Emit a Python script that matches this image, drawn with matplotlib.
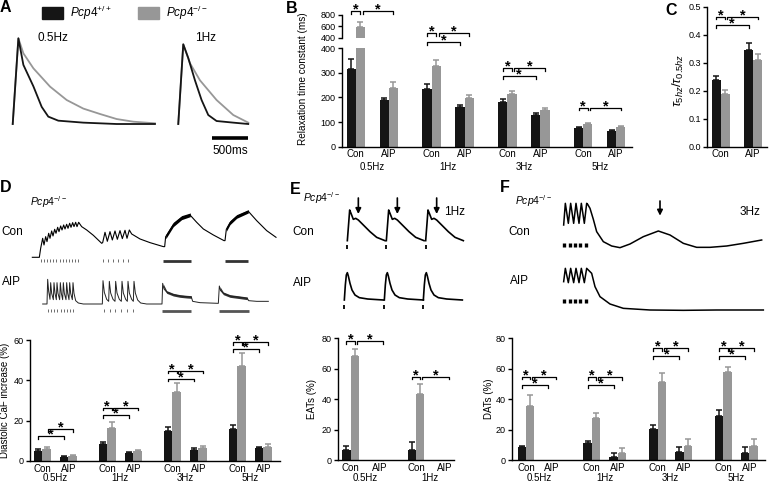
import matplotlib
matplotlib.use("Agg")
import matplotlib.pyplot as plt
from matplotlib.patches import Patch
import numpy as np

W, H = 769, 491
BLACK = "#151515"
GREY = "#979797"

plt.rcParams["font.family"] = ["Liberation Sans", "DejaVu Sans"]
plt.rcParams["mathtext.fontset"] = "custom"
plt.rcParams["mathtext.rm"] = "Liberation Sans"
plt.rcParams["mathtext.it"] = "Liberation Sans:italic"
plt.rcParams["mathtext.bf"] = "Liberation Sans:bold"
plt.rcParams["axes.linewidth"] = 1.0

WT = r"$\mathit{Pcp4}^{+/+}$"
KO = r"$\mathit{Pcp4}^{-/-}$"

# ---- A: normalised Ca transients (ms, F/Fmax)
a05_t_wt = [0, 77, 145, 281, 394, 484, 620, 960, 1414, 1935]
a05_f_wt = [0, 1.0, 0.69, 0.44, 0.20, 0.086, 0.039, 0.016, 0.0, 0.0]
a05_t_ko = [0, 77, 145, 281, 508, 734, 960, 1187, 1414, 1641, 1935]
a05_f_ko = [0, 1.0, 0.825, 0.65, 0.436, 0.28, 0.18, 0.117, 0.058, 0.027, 0.008]
a1_t_wt = [0, 68, 136, 227, 317, 408, 521, 748, 952]
a1_f_wt = [0, 0.93, 0.77, 0.51, 0.28, 0.105, 0.035, 0.016, 0.0]
a1_t_ko = [0, 68, 159, 295, 521, 748, 952]
a1_f_ko = [0, 0.93, 0.71, 0.51, 0.28, 0.105, 0.016]

# ---- B: relaxation time constant (ms)
freqs = ["0.5Hz", "1Hz", "3Hz", "5Hz"]
b_con_wt, b_con_wt_e = [314, 233, 183, 76], [41, 22, 10, 5]
b_con_ko, b_con_ko_e = [590, 327, 213, 92], [85, 27, 14, 6]
b_aip_wt, b_aip_wt_e = [188, 161, 128, 65], [8, 7, 8, 4]
b_aip_ko, b_aip_ko_e = [240, 196, 150, 79], [22, 15, 7, 4]
b_sig = [(0, "cw", 870), (0, "ka", 870), (1, "cw", 462), (1, "ka", 462), (1, "wa", 426),
         (2, "cw", 318), (2, "ka", 318), (2, "wa", 286), (3, "cw", 159), (3, "ka", 159)]

# ---- C: tau 5Hz / tau 0.5Hz
c_con_wt, c_con_wt_e = [0.238], [0.014]
c_con_ko, c_con_ko_e = [0.187], [0.015]
c_aip_wt, c_aip_wt_e = [0.345], [0.026]
c_aip_ko, c_aip_ko_e = [0.310], [0.021]
c_sig = [(0, "cw", 0.464), (0, "ka", 0.464), (0, "wa", 0.435)]

# ---- D: diastolic CaF increase (%)
d_con_wt, d_con_wt_e = [5.1, 8.3, 15.0, 15.7], [0.8, 1.1, 2.0, 2.2]
d_con_ko, d_con_ko_e = [5.9, 16.2, 34.0, 47.3], [0.9, 3.0, 4.5, 6.1]
d_aip_wt, d_aip_wt_e = [2.1, 4.1, 5.6, 6.3], [0.4, 0.5, 0.8, 0.6]
d_aip_ko, d_aip_ko_e = [2.6, 5.1, 6.3, 7.1], [0.5, 0.5, 1.1, 1.2]
d_sig = [(0, "wa", 12.4), (0, "ka", 15.9), (1, "cw", 26.4), (1, "ka", 26.4), (1, "wa", 22.8),
         (2, "cw", 44.8), (2, "ka", 44.8), (2, "wa", 40.8), (3, "cw", 59), (3, "ka", 59), (3, "wa", 55.5)]

# ---- E: EATs (%)
e_freqs = ["0.5Hz", "1Hz"]
e_con_wt, e_con_wt_e = [6.6, 6.6], [2.6, 5.0]
e_con_ko, e_con_ko_e = [68.4, 43.4], [4.4, 6.4]
e_aip_wt, e_aip_wt_e = [0, 0], [0, 0]
e_aip_ko, e_aip_ko_e = [0, 0], [0, 0]
e_sig = [(0, "cw", 78.3), (0, "ka", 78.3), (1, "cw", 54.8), (1, "ka", 54.8)]

# ---- F: DATs (%)
f_con_wt, f_con_wt_e = [8.3, 11.0, 20.2, 29.0], [0.9, 1.5, 2.8, 3.9]
f_con_ko, f_con_ko_e = [35.5, 27.4, 51.5, 57.9], [7.3, 3.3, 6.0, 3.5]
f_aip_wt, f_aip_wt_e = [0, 2.2, 5.5, 4.8], [0, 2.6, 3.3, 3.5]
f_aip_ko, f_aip_ko_e = [0, 4.8, 9.2, 9.2], [0, 2.9, 4.4, 4.4]
f_sig = [(0, "cw", 54.8), (0, "ka", 54.8), (0, "wa", 49.3), (1, "cw", 54.4), (1, "ka", 54.4), (1, "wa", 49.3),
         (2, "cw", 73.5), (2, "ka", 73.5), (2, "wa", 68.4), (3, "cw", 73.5), (3, "ka", 73.5), (3, "wa", 68.4)]

# ---- D traces (samples, a.u.)
d_con_trace = [(97, 0), (118, 0), (122, 27), (128, 57), (132, 37), (137, 62), (141, 47), (146, 72),
               (150, 57), (155, 79), (159, 64), (164, 84), (168, 72), (173, 90), (177, 77), (182, 94),
               (186, 82), (191, 97), (195, 85), (200, 99), (204, 87), (209, 102), (213, 90), (218, 104),
               (222, 92), (227, 105), (231, 92), (236, 105), (245, 92), (260, 82), (280, 66), (305, 42),
               (308, 44), (315, 75), (322, 48), (330, 77), (337, 52), (345, 79), (352, 54), (360, 80),
               (367, 56), (375, 81), (381, 57), (388, 82), (395, 70), (420, 55), (450, 44), (490, 32),
               (494, 32), (497, 62), (500, 66), (520, 98), (545, 119), (570, 127), (590, 105), (610, 85),
               (640, 67), (672, 50), (675, 50), (679, 84), (690, 104), (710, 122), (745, 138), (770, 110),
               (800, 80), (828, 60)]
d_con_band3 = ([497, 500, 520, 545, 571], [56, 60, 92, 113, 122], [68, 73, 105, 125, 133])
d_con_band4 = ([679, 690, 710, 745], [78, 98, 117, 133], [90, 110, 128, 143])
d_aip_trace = [(128, 0), (141, 0), (143, 74), (146, 38), (150, 14), (152, 64), (155, 32), (160, 13),
               (162, 64), (165, 32), (169, 13), (171, 64), (174, 32), (179, 13), (181, 64), (184, 32),
               (188, 13), (190, 64), (193, 32), (198, 13), (200, 64), (203, 32), (207, 13), (209, 64),
               (212, 32), (217, 13), (219, 64), (222, 32), (227, 10), (235, 3), (250, 0), (307, 0),
               (309, 70), (313, 35), (320, 14), (326, 8), (328, 68), (332, 33), (339, 14), (345, 8),
               (347, 68), (351, 33), (358, 14), (364, 8), (366, 68), (370, 33), (377, 14), (382, 8),
               (384, 68), (388, 33), (395, 14), (400, 8), (402, 68), (406, 33), (413, 12), (422, 3),
               (440, 0), (486, 0), (488, 62), (492, 45), (500, 36), (520, 28), (540, 24), (560, 22),
               (574, 21), (578, 8), (600, 4), (655, 2), (658, 54), (662, 40), (670, 32), (690, 24),
               (720, 20), (742, 17), (746, 10), (770, 8), (805, 8)]
d_aip_band3 = ([490, 500, 520, 540, 560, 574], [50, 32, 24, 20, 18, 17], [60, 40, 32, 28, 26, 25])
d_aip_band4 = ([660, 670, 690, 720, 742], [42, 28, 20, 16, 13], [52, 36, 28, 24, 21])
d_con_stim = [122, 131, 141, 150, 160, 169, 179, 188, 198, 207, 217, 226, 235, 308, 323, 338, 353, 368, 383]
d_con_stim_bands = [(490, 572), (675, 745)]
d_aip_stim = [143, 153, 163, 172, 182, 191, 201, 210, 220, 312, 329, 346, 364, 381, 398]
d_aip_stim_bands = [(485, 572), (658, 747)]

e_con_beat = [(0, 0), (4, 52), (7, 92), (11, 82), (18, 64), (25, 67), (33, 62), (48, 47), (68, 27),
              (88, 10), (113, 0)]
e_con_onsets = [172, 289, 407]
e_aip_beat = [(0, 0), (3, 45), (6, 75), (9, 82), (12, 72), (17, 50), (23, 30), (32, 15), (45, 7),
              (70, 3), (117, 0)]
e_aip_onsets = [163, 283, 400]
e_arrows = [205, 322, 440]

# ---- F traces
f_con_trace = [(341, 68), (346, 133), (355, 73), (362, 133), (371, 73), (378, 133), (387, 73),
               (394, 133), (403, 73), (410, 133), (413, 130), (420, 118), (430, 85), (440, 48),
               (460, 18), (485, 5), (510, 0), (540, 11), (580, 33), (625, 50), (660, 38), (700, 13),
               (740, 1), (780, 1), (830, 5), (880, 13), (935, 23)]
f_aip_trace = [(341, 90), (346, 130), (355, 87), (362, 130), (371, 87), (378, 130), (387, 87),
               (394, 130), (403, 87), (410, 130), (415, 125), (425, 115), (435, 75), (450, 45),
               (480, 23), (520, 10), (600, 5), (700, 4), (800, 5), (940, 5)]
f_stim = [343, 359, 375, 391, 407]
f_arrow = 630

fig = plt.figure(figsize=(W / 100, H / 100), dpi=100)


def px_axes(x0, y0, x1, y1):
    ax = fig.add_axes([x0 / W, 1 - y1 / H, (x1 - x0) / W, (y1 - y0) / H])
    ax.patch.set_visible(False)
    return ax


def ftext(x, y, s, **kw):
    fig.text(x / W, 1 - y / H, s, **kw)


def dy_px(ax, px):
    lo, hi = ax.get_ylim()
    return px * (hi - lo) / (ax.get_position().height * H)


def style_bar_axes(ax):
    for s in ["top", "right"]:
        ax.spines[s].set_visible(False)
    ax.tick_params(axis="y", direction="out", length=3, width=1, labelsize=6.5, pad=1.5)
    ax.tick_params(axis="x", length=0, labelsize=7, pad=2)


def draw_bars(ax, step, w, con_wt, con_wt_e, con_ko, con_ko_e, aip_wt, aip_wt_e, aip_ko, aip_ko_e):
    n = len(con_wt)
    con_x = np.arange(n) * step
    aip_x = con_x + 1
    for xs, v, e, col, side in [(con_x, con_wt, con_wt_e, BLACK, -1), (con_x, con_ko, con_ko_e, GREY, 1),
                                (aip_x, aip_wt, aip_wt_e, BLACK, -1), (aip_x, aip_ko, aip_ko_e, GREY, 1)]:
        xc = xs + side * w / 2
        ax.bar(xc, v, w, color=col, linewidth=0)
        for x, val, err in zip(xc, v, e):
            if err > 0:
                ax.errorbar([x], [val], yerr=[[0], [err]], fmt="none", ecolor=col,
                            elinewidth=1.1, capsize=2.3, capthick=1.1)
    return con_x, aip_x


def xlabels(ax, con_x, aip_x, groups, off_px):
    ticks = list(con_x) + list(aip_x)
    labs = ["Con"] * len(con_x) + ["AIP"] * len(aip_x)
    ax.set_xticks(ticks, labs)
    if groups:
        h = ax.get_position().height * H
        for x, g in zip(con_x, groups):
            ax.text(x + 0.5, -off_px / h, g, transform=ax.get_xaxis_transform(),
                    ha="center", va="center", fontsize=7)


def brackets(ax, step, w, specs, gap=0.07):
    d = dy_px(ax, 2.7)
    for g, kind, y in specs:
        c = g * step
        if kind == "cw":
            x1, x2 = c - w / 2, c + w / 2
        elif kind == "ka":
            x1, x2 = c + w / 2 + gap, c + 1 + w / 2
        else:
            x1, x2 = c - w / 2, c + 1 - w / 2
        ax.plot([x1, x1, x2, x2], [y - d, y, y, y - d], color="k", lw=0.9, clip_on=False)
        ax.text((x1 + x2) / 2, y - dy_px(ax, 2.4), "*", ha="center", va="baseline",
                fontsize=10.5, fontweight="bold", clip_on=False)


# ================= A
axA = px_axes(10, 30, 252, 160)
axA.axis("off")
axA.set_xlim(-37, 3255)
axA.set_ylim(-0.42, 1.097)
a1_off = 2252
axA.plot(a05_t_ko, a05_f_ko, color=GREY, lw=1.3)
axA.plot(a05_t_wt, a05_f_wt, color=BLACK, lw=1.3)
axA.plot(np.array(a1_t_ko) + a1_off, a1_f_ko, color=GREY, lw=1.3)
axA.plot(np.array(a1_t_wt) + a1_off, a1_f_wt, color=BLACK, lw=1.3)
axA.plot([2705, 3205], [-0.16, -0.16], color="k", lw=2.6, solid_capstyle="butt")
axA.text(2955, -0.25, "500ms", ha="center", va="top", fontsize=8.5)
axA.text(548, 1.0, "0.5Hz", ha="center", va="center", fontsize=8.5)
axA.text(2618, 1.0, "1Hz", ha="center", va="center", fontsize=8.5)
fig.legend(handles=[Patch(color=BLACK), Patch(color=GREY)], labels=[WT, KO], ncol=2,
           loc="center", bbox_to_anchor=(125 / W, 1 - 12.5 / H), frameon=False, fontsize=8.5,
           handlelength=1.8, handleheight=1.2, columnspacing=2.2, handletextpad=0.6)

# ================= B
b_step, b_w = 2.3, 0.28
axB = px_axes(342, 48.3, 632, 146.7)
axBt = px_axes(342, 15, 632, 37.7)
for ax in (axB, axBt):
    style_bar_axes(ax)
    ax.set_xlim(-0.42, 8.38)
    cx, axx = draw_bars(ax, b_step, b_w, b_con_wt, b_con_wt_e, b_con_ko, b_con_ko_e,
                        b_aip_wt, b_aip_wt_e, b_aip_ko, b_aip_ko_e)
axB.set_ylim(0, 400)
axB.set_yticks([0, 100, 200, 300, 400])
axBt.set_ylim(400, 800)
axBt.set_yticks([400, 600, 800])
axBt.spines["bottom"].set_visible(False)
axBt.set_xticks([])
xlabels(axB, cx, axx, freqs, 20)
brackets(axBt, b_step, b_w, [s for s in b_sig if s[0] == 0])
brackets(axB, b_step, b_w, [s for s in b_sig if s[0] != 0])
ftext(303, 79, "Relaxation time constant (ms)", rotation=90, ha="center", va="center", fontsize=7.2)

# ================= C
c_w = 0.28
axC = px_axes(707.3, 6.7, 766.7, 146.7)
style_bar_axes(axC)
axC.set_xlim(-0.41, 1.42)
axC.set_ylim(0, 0.5)
axC.set_yticks([0, 0.1, 0.2, 0.3, 0.4, 0.5])
axC.yaxis.set_major_formatter(matplotlib.ticker.FormatStrFormatter("%.1f"))
cx, axx = draw_bars(axC, 1, c_w, c_con_wt, c_con_wt_e, c_con_ko, c_con_ko_e,
                    c_aip_wt, c_aip_wt_e, c_aip_ko, c_aip_ko_e)
xlabels(axC, cx, axx, None, 0)
brackets(axC, 1, c_w, c_sig)
ftext(678, 80, r"$\tau_{5hz}/\tau_{0.5hz}$", rotation=90, ha="center", va="center", fontsize=9.5)

# ================= D bars
d_step, d_w = 2.5, 0.33
axD = px_axes(30, 340, 280, 461)
style_bar_axes(axD)
axD.set_xlim(-0.47, 9.14)
axD.set_ylim(0, 60)
axD.set_yticks([0, 20, 40, 60])
cx, axx = draw_bars(axD, d_step, d_w, d_con_wt, d_con_wt_e, d_con_ko, d_con_ko_e,
                    d_aip_wt, d_aip_wt_e, d_aip_ko, d_aip_ko_e)
xlabels(axD, cx, axx, freqs, 17)
brackets(axD, d_step, d_w, d_sig)
ftext(5.5, 400, "Diastolic CaF increase (%)", rotation=90, ha="center", va="center", fontsize=7)

# ================= E bars
e_step, e_w = 2.28, 0.29
axE = px_axes(338.3, 338.3, 454, 460)
style_bar_axes(axE)
axE.set_xlim(-0.43, 3.61)
axE.set_ylim(0, 80)
axE.set_yticks([0, 20, 40, 60, 80])
cx, axx = draw_bars(axE, e_step, e_w, e_con_wt, e_con_wt_e, e_con_ko, e_con_ko_e,
                    e_aip_wt, e_aip_wt_e, e_aip_ko, e_aip_ko_e)
xlabels(axE, cx, axx, e_freqs, 18)
brackets(axE, e_step, e_w, e_sig)
ftext(312, 399, "EATs (%)", rotation=90, ha="center", va="center", fontsize=7)

# ================= F bars
f_step, f_w = 2.53, 0.32
axF = px_axes(511.7, 338.3, 765, 460)
style_bar_axes(axF)
axF.set_xlim(-0.55, 9.19)
axF.set_ylim(0, 80)
axF.set_yticks([0, 20, 40, 60, 80])
cx, axx = draw_bars(axF, f_step, f_w, f_con_wt, f_con_wt_e, f_con_ko, f_con_ko_e,
                    f_aip_wt, f_aip_wt_e, f_aip_ko, f_aip_ko_e)
xlabels(axF, cx, axx, freqs, 18)
brackets(axF, f_step, f_w, f_sig)
ftext(489, 399, "DATs (%)", rotation=90, ha="center", va="center", fontsize=7)

# ================= D traces
axDc = px_axes(30, 200, 290, 265)
axDa = px_axes(30, 272, 290, 315)
for ax in (axDc, axDa):
    ax.axis("off")
    ax.set_xlim(90, 870)
axDc.set_ylim(-23.1, 171.9)
axDa.set_ylim(-33, 96)
t, f = zip(*d_con_trace)
axDc.plot(t, f, color="k", lw=0.8)
for bt, lo, hi in (d_con_band3, d_con_band4):
    axDc.fill_between(bt, lo, hi, color="k", lw=0)
axDc.vlines(d_con_stim, -14, -6, color="#555555", lw=0.6)
for s0, s1 in d_con_stim_bands:
    axDc.plot([s0, s1], [-10, -10], color="#333333", lw=2.0, solid_capstyle="butt")
t, f = zip(*d_aip_trace)
axDa.plot(t, f, color="#222222", lw=0.7)
for bt, lo, hi in (d_aip_band3, d_aip_band4):
    axDa.fill_between(bt, lo, hi, color="#333333", lw=0)
axDa.vlines(d_aip_stim, -24, -16, color="#555555", lw=0.6)
for s0, s1 in d_aip_stim_bands:
    axDa.plot([s0, s1], [-20, -20], color="#555555", lw=2.0, solid_capstyle="butt")

# ================= E traces
axEc = px_axes(330, 195, 470, 252)
axEa = px_axes(330, 262, 470, 312)
for ax in (axEc, axEa):
    ax.axis("off")
    ax.set_xlim(120, 540)
axEc.set_ylim(-34, 137)
axEa.set_ylim(-36, 114)
bt, bf = zip(*e_con_beat)
for on in e_con_onsets:
    axEc.plot(np.array(bt) + on, bf, color="k", lw=1.2)
axEc.vlines(e_con_onsets, -26, -14, color="k", lw=1.3)
for x in e_arrows:
    axEc.annotate("", xy=(x, 80), xytext=(x, 128),
                  arrowprops=dict(arrowstyle="-|>", color="k", lw=1.2, mutation_scale=8, shrinkA=0, shrinkB=0))
axEc.text(463, 87, "1Hz", ha="left", va="center", fontsize=8.5)
bt, bf = zip(*e_aip_beat)
for on in e_aip_onsets:
    axEa.plot(np.array(bt) + on, bf, color="k", lw=1.2)
axEa.vlines(e_aip_onsets, -28, -16, color="k", lw=1.3)

# ================= F traces
axFc = px_axes(550, 195, 768, 252)
axFa = px_axes(550, 262, 768, 315)
for ax in (axFc, axFa):
    ax.axis("off")
    ax.set_xlim(300, 954)
axFc.set_ylim(-13, 158)
axFa.set_ylim(-10, 149)
t, f = zip(*f_con_trace)
axFc.plot(t, f, color="k", lw=1.1)
axFc.vlines(f_stim, 1, 13, color="k", lw=2.4)
axFc.annotate("", xy=(f_arrow, 96), xytext=(f_arrow, 140),
              arrowprops=dict(arrowstyle="-|>", color="k", lw=1.2, mutation_scale=8, shrinkA=0, shrinkB=0))
axFc.text(870, 108, "3Hz", ha="left", va="center", fontsize=8.5)
t, f = zip(*f_aip_trace)
axFa.plot(t, f, color="k", lw=1.1)
axFa.vlines(f_stim, 27, 39, color="k", lw=2.4)

# ================= trace labels and panel letters
for x, y, s in [(30, 201.7, KO), (303, 198, KO), (515, 200.7, KO)]:
    ftext(x, y, s, ha="left", va="center", fontsize=7.5)
for x, y, s in [(1, 231.7, "Con"), (2, 282, "AIP"), (292, 231.7, "Con"), (293, 282.7, "AIP"),
                (508, 231.7, "Con"), (510, 280.7, "AIP")]:
    ftext(x, y, s, ha="left", va="center", fontsize=8.5)
for x, y, s in [(0, 8, "A"), (286, 8.5, "B"), (665, 10.5, "C"), (0, 188, "D"), (290, 189, "E"), (500, 188, "F")]:
    ftext(x, y, s, ha="left", va="center", fontsize=11.5, fontweight="bold")

fig.savefig("out.png", dpi=100)
